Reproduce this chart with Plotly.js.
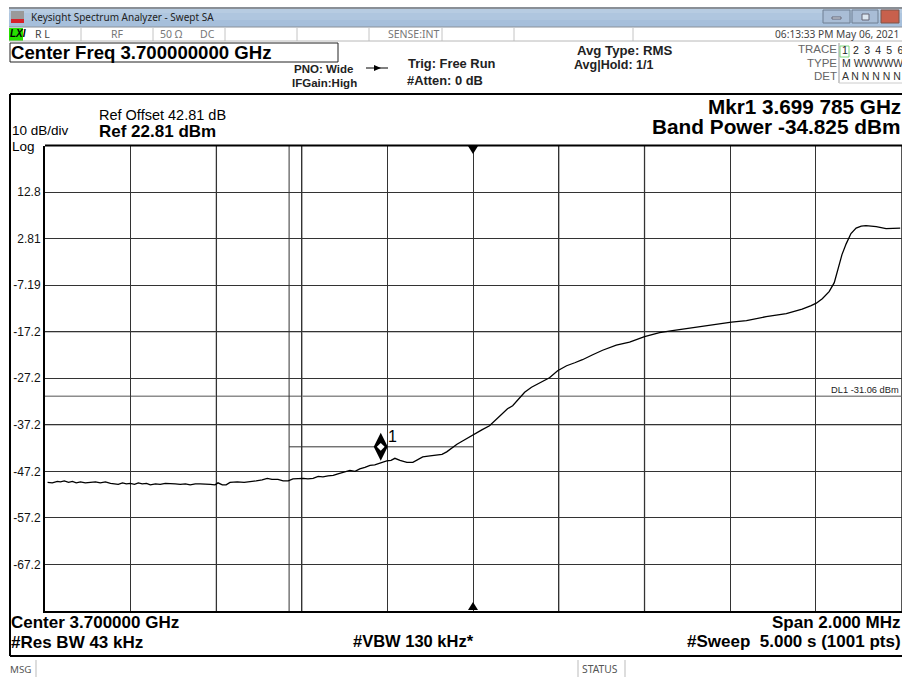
<!DOCTYPE html>
<html><head><meta charset="utf-8">
<script src="https://cdn.plot.ly/plotly-3.0.1.min.js"></script>
<style>html,body{margin:0;padding:0;background:#fff;overflow:hidden}</style>
</head><body><div id="chart" style="width:902px;height:677px"></div>
<script>
// Frequency offset from the 3.700000 GHz centre, in MHz
const freqOffsetMHz = [-0.994,-0.983,-0.971,-0.964,-0.955,-0.945,-0.936,-0.927,-0.917,-0.906,-0.894,-0.882,-0.871,-0.859,-0.847,-0.838,-0.829,-0.819,-0.810,-0.801,-0.791,-0.782,-0.773,-0.763,-0.754,-0.742,-0.731,-0.719,-0.707,-0.696,-0.684,-0.672,-0.661,-0.649,-0.638,-0.626,-0.614,-0.603,-0.596,-0.586,-0.577,-0.568,-0.551,-0.535,-0.521,-0.507,-0.493,-0.481,-0.470,-0.456,-0.444,-0.432,-0.421,-0.409,-0.397,-0.386,-0.374,-0.362,-0.351,-0.339,-0.327,-0.316,-0.302,-0.288,-0.276,-0.265,-0.253,-0.241,-0.230,-0.218,-0.202,-0.192,-0.183,-0.171,-0.155,-0.141,-0.129,-0.118,-0.101,-0.087,-0.073,-0.062,-0.050,-0.038,-0.024,-0.008,0.006,0.020,0.038,0.055,0.069,0.080,0.092,0.106,0.120,0.136,0.157,0.178,0.197,0.218,0.237,0.255,0.279,0.302,0.334,0.365,0.400,0.435,0.465,0.535,0.603,0.638,0.684,0.731,0.768,0.789,0.801,0.815,0.831,0.843,0.854,0.861,0.871,0.878,0.882,0.894,0.906,0.917,0.941,0.964,0.983,0.997];
// Trace 1 level, dBm
const levelDbm = [-49.55,-49.66,-49.34,-49.45,-49.23,-49.55,-49.34,-49.66,-49.45,-49.66,-49.55,-49.45,-49.66,-49.45,-49.77,-49.88,-49.98,-49.66,-49.88,-49.77,-49.98,-49.66,-49.88,-49.77,-50.09,-49.88,-49.98,-49.77,-49.77,-49.88,-49.98,-49.88,-50.09,-49.88,-49.88,-49.88,-49.98,-50.09,-49.66,-50.09,-50.09,-49.55,-49.45,-49.55,-49.45,-49.23,-49.02,-48.70,-48.91,-48.91,-49.23,-49.23,-48.80,-48.70,-48.70,-48.80,-48.70,-48.27,-48.37,-48.16,-48.05,-47.73,-47.40,-46.97,-47.19,-46.65,-46.33,-45.90,-45.79,-45.36,-44.93,-44.82,-44.39,-44.82,-45.26,-45.26,-44.72,-44.07,-43.85,-43.75,-43.53,-43.00,-42.14,-41.38,-40.63,-39.77,-38.91,-38.27,-37.41,-35.90,-34.72,-33.75,-33.10,-31.60,-30.20,-29.13,-28.16,-27.08,-25.58,-24.50,-23.86,-23.21,-22.14,-21.17,-20.09,-19.45,-18.27,-17.41,-16.97,-16.01,-15.15,-14.82,-13.96,-13.32,-12.35,-11.60,-11.06,-10.09,-8.59,-6.65,-3.00,-0.63,1.73,3.13,3.89,5.07,5.50,5.61,5.39,4.96,5.07,5.07];
const yTickValues = [12.81,2.81,-7.19,-17.19,-27.19,-37.19,-47.19,-57.19,-67.19];
const yTickLabels = ["12.8","2.81","-7.19","-17.2","-27.2","-37.2","-47.2","-57.2","-67.2"];
const xTickValues = [-0.8,-0.6,-0.4,-0.2,0,0.2,0.4,0.6,0.8];
const paleGridX = [-0.6,-0.4,0.2,0.4];
const paleGridY = [-17.19,-37.19];
const refLevel = 22.81, bottomLevel = -77.19;
const displayLine = -31.06;
const markerFreq = [-0.216], markerLevel = [-41.92];
const bandEdges = [-0.43, 0];
const bandLevel = -41.92;

const X = p => p/902, Y = p => 1-p/677;
const SANS = 'Liberation Sans, Arial, sans-serif', UI = 'Noto Sans, sans-serif';
const anns = [];
function T(text,x,y,size,opt={}){
  const a=opt.a||'left';
  anns.push({text:opt.bold?'<b>'+text+'</b>':text,x:X(a==='left'?x-1:x+1),y:Y(y),xref:'paper',yref:'paper',showarrow:false,
    xanchor:a,yanchor:'middle',borderpad:0,
    font:{family:opt.f||SANS,size:size,color:opt.c||'#000'}});
}
const shapes = [];
function R(x0,y0,x1,y1,fill,line,lw,layer){
  shapes.push({type:'rect',xref:'paper',yref:'paper',x0:X(x0),x1:X(x1),y0:Y(y0),y1:Y(y1),
    fillcolor:fill||'rgba(0,0,0,0)',line:{color:line||'rgba(0,0,0,0)',width:line?(lw||1):0},layer:layer||'below'});
}
function L(x0,y0,x1,y1,c,w,layer){
  shapes.push({type:'line',xref:'paper',yref:'paper',x0:X(x0),x1:X(x1),y0:Y(y0),y1:Y(y1),
    line:{color:c,width:w||1},layer:layer||'below'});
}
function P(pts,fill,layer){
  const d='M'+pts.map(q=>X(q[0]).toFixed(5)+','+Y(q[1]).toFixed(5)).join('L')+'Z';
  shapes.push({type:'path',xref:'paper',yref:'paper',path:d,fillcolor:fill,line:{width:0},layer:layer||'above'});
}
// title bar
R(9,8,902,13,'#b7cce2'); R(9,13,902,20,'#afc6df'); R(9,20,902,27,'#a6bfdb');
L(9,8,902,8,'#8a8f96',2); L(9,27,902,27,'#8a9098',1);
R(11,11,24,19,'#9a9a9a'); R(11,19,24,23,'#d8202a');
R(823,10,850,23,'#a9bdd6','#6f7f92',1); R(852,10,878,23,'#a9bdd6','#6f7f92',1); R(881,10,899,23,'#c8604c','#7c5548',1);
R(832,17,841,19,'#dde7f1','#667',1); R(862,14,869,20,'#dde7f1','#667',1);
// status row
R(9,28,23,41,'#26e000');
[81,153,225,297,369,442,514,633].forEach(x=>L(x,28,x,41,'#c4c4c4',1));
L(9,41,902,41,'#b8b8b8',1);
// centre-freq box
R(10,43,338,62,'#fff','#222',1);
// trace table
L(839,43,839,83,'#999',1); L(839,83,902,83,'#ccc',1);
R(840,46,849,57,'rgba(0,0,0,0)','#7fd67f',1);
// arrow glyph
L(366,68,388,68,'#000',1); P([[374,65],[374,71],[381,68]],'#000');
// outer frames
L(10,94,902,94,'#000',2,'above'); L(10,94,10,656,'#000',2,'above'); L(10,656,902,656,'#000',2,'above');
// message row
L(36,660,36,677,'#bbb',1); L(578,660,578,677,'#bbb',1); L(625,660,625,677,'#bbb',1);
// centre triangles
P([[468,146],[478,146],[473,154]],'#000'); P([[468,610],[478,610],[473,602]],'#000');

// header text
T('Keysight Spectrum Analyzer - Swept SA',31,17,10,{f:UI,c:'#222'});
T('<b><i>LXI</i></b>',10,34,10,{f:SANS});
T('R L',35,34,10.5,{f:UI,c:'#444'}); T('RF',111,34,10.5,{f:UI,c:'#777'});
T('50 Ω',160,34,10.5,{f:UI,c:'#777'}); T('DC',200,34,10.5,{f:UI,c:'#777'});
T('SENSE:INT',388,34,10.5,{f:UI,c:'#777'});
T('06:13:33 PM May 06, 2021',899,34,10.2,{f:UI,a:'right',c:'#444'});
T('Center Freq 3.700000000 GHz',11,52,18.6,{bold:1});
T('PNO: Wide',294,69,11.5,{bold:1,c:'#222'}); T('IFGain:High',292,83,11.5,{bold:1,c:'#222'});
T('Trig: Free Run',408,64,12.9,{bold:1,c:'#222'}); T('#Atten: 0 dB',407,80,12.9,{bold:1,c:'#222'});
T('Avg Type: RMS',577,50,13.2,{bold:1,c:'#222'}); T('Avg|Hold: 1/1',574,65,12.5,{bold:1,c:'#222'});
T('TRACE',837,49,11.5,{a:'right',c:'#666'}); T('TYPE',837,63,11.5,{a:'right',c:'#666'}); T('DET',837,76,11.5,{a:'right',c:'#666'});
T('1\u20022\u20023\u20024\u20025\u20026',842,50,10.5,{c:'#222'}); T('M WWWWW',842,63,10.5,{c:'#333'}); T('A N N N N N',842,76,10.5,{c:'#333'});
T('Ref Offset 42.81 dB',99,115,14.5); T('Ref 22.81 dBm',99,131,17,{bold:1});
T('10 dB/div',12,130.5,13.5); T('Log',12,146,13.5);
T('Mkr1 3.699 785 GHz',901,107,20.7,{bold:1,a:'right'}); T('Band Power -34.825 dBm',901,126,20.8,{bold:1,a:'right'});
// footer text
T('Center 3.700000 GHz',11,622,17,{bold:1}); T('#Res BW 43 kHz',11,642,17,{bold:1});
T('#VBW 130 kHz*',353,641,16.5,{bold:1});
T('Span 2.000 MHz',901,622,17,{bold:1,a:'right'}); T('#Sweep  5.000 s (1001 pts)',901,641,17,{bold:1,a:'right'});
T('MSG',10,669,9.8,{f:UI,c:'#555'}); T('STATUS',582,669,10.3,{f:UI,c:'#555'});
// plot annotations
T('DL1 -31.06 dBm',899,390,9.3,{a:'right',c:'#222'});
T('1',388,436,16);

// data-scale lines
paleGridX.forEach(v=>shapes.push({type:'line',xref:'x',yref:'y',x0:v,x1:v,y0:bottomLevel,y1:refLevel,line:{color:'#8c8c8c',width:1.5},layer:'below'}));
paleGridY.forEach(v=>shapes.push({type:'line',xref:'x',yref:'y',x0:-1,x1:1,y0:v,y1:v,line:{color:'#8c8c8c',width:1.5},layer:'below'}));
shapes.push({type:'line',xref:'x',yref:'y',x0:-1,x1:1,y0:displayLine,y1:displayLine,line:{color:'#8c8c8c',width:1.5},layer:'below'});
shapes.push({type:'line',xref:'x',yref:'y',x0:bandEdges[0],x1:bandEdges[1],y0:bandLevel,y1:bandLevel,line:{color:'#333',width:1},layer:'below'});
shapes.push({type:'line',xref:'x',yref:'y',x0:bandEdges[0],x1:bandEdges[0],y0:bottomLevel,y1:refLevel,line:{color:'#333',width:1},layer:'below'});

const traces = [
 {x:freqOffsetMHz,y:levelDbm,type:'scatter',mode:'lines',line:{color:'#000',width:1.3},hoverinfo:'skip'},
 {x:markerFreq,y:markerLevel,type:'scatter',mode:'markers',marker:{symbol:'diamond-tall',size:20,color:'#000',line:{width:0}},hoverinfo:'skip'},
 {x:markerFreq,y:markerLevel,type:'scatter',mode:'markers',marker:{symbol:'diamond',size:6,color:'#fff',line:{width:0}},hoverinfo:'skip'}
];
const layout = {
  width:902,height:677,margin:{l:0,r:0,t:0,b:0,pad:0},showlegend:false,
  paper_bgcolor:'#fff',plot_bgcolor:'#fff',
  xaxis:{domain:[X(45),X(901.5)],range:[-1,1],tickmode:'array',tickvals:xTickValues,showticklabels:false,ticks:'',
    showgrid:true,gridcolor:'#333',gridwidth:1,zeroline:false,showline:true,linecolor:'#000',linewidth:2,mirror:false},
  yaxis:{domain:[Y(611),Y(145.5)],range:[bottomLevel,refLevel],tickmode:'array',tickvals:yTickValues,ticktext:yTickLabels,
    tickfont:{family:SANS,size:12,color:'#111'},ticks:'',showgrid:true,gridcolor:'#333',gridwidth:1,zeroline:false,
    showline:true,linecolor:'#000',linewidth:2,mirror:false},
  shapes:shapes,annotations:anns
};
// top edge and right edge of the graticule
shapes.push({type:'line',xref:'paper',yref:'paper',x0:X(45),x1:X(902),y0:Y(145.5),y1:Y(145.5),line:{color:'#000',width:2},layer:'above'});
shapes.push({type:'line',xref:'paper',yref:'paper',x0:X(901.5),x1:X(901.5),y0:Y(145),y1:Y(611),line:{color:'#555',width:1},layer:'below'});
Plotly.newPlot('chart',traces,layout,{displayModeBar:false,staticPlot:true});
</script></body></html>
